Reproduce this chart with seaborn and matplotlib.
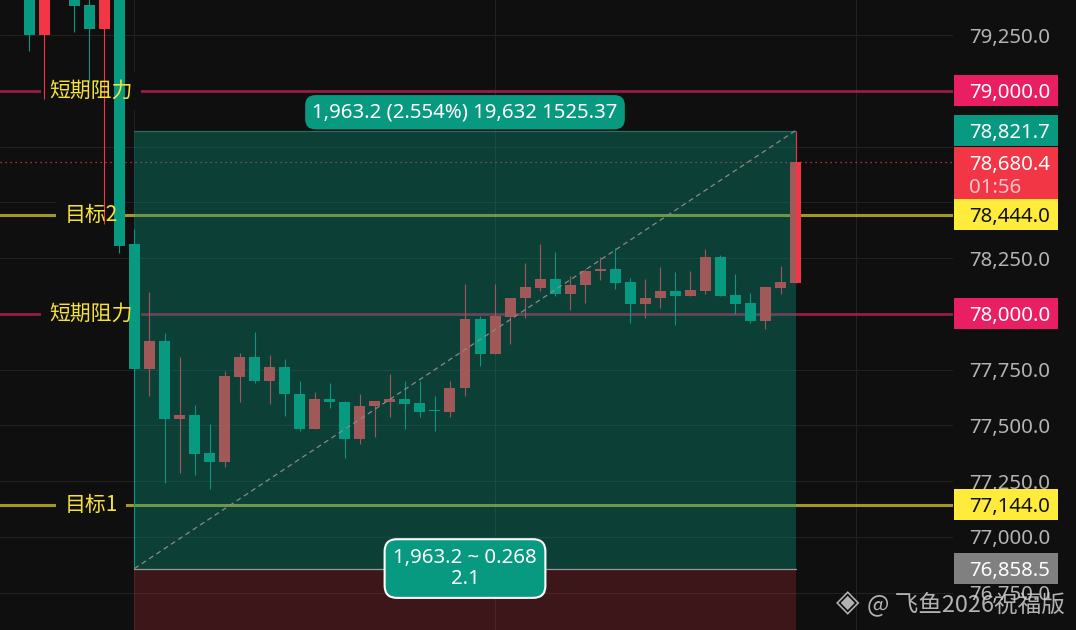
import numpy as np
import pandas as pd
import seaborn as sns
import matplotlib.pyplot as plt
from matplotlib.patches import Rectangle
from matplotlib.transforms import blended_transform_factory

# OHLC (red = up, green = down)
opens = [79450, 79251, 79520, 79430, 79384, 79277, 79430, 78313, 77754, 77879,
         77531, 77548, 77377, 77338, 77718, 77807, 77701, 77763, 77642, 77482,
         77619, 77606, 77437, 77585, 77607, 77619, 77601, 77566, 77558, 77666,
         77978, 77822, 77988, 78069, 78118, 78157, 78091, 78131, 78190, 78202,
         78143, 78046, 78069, 78103, 78082, 78104, 78255, 78085, 78049, 77966,
         78118, 78140]
highs = [79480, 79480, 79560, 79460, 79430, 79470, 79450, 78381, 78099, 77915,
         77807, 77592, 77507, 77746, 77825, 77919, 77816, 77798, 77700, 77651,
         77691, 77610, 77642, 77610, 77731, 77700, 77700, 77633, 77700, 78134,
         77991, 78134, 78072, 78229, 78314, 78278, 78170, 78202, 78255, 78296,
         78161, 78157, 78211, 78188, 78193, 78291, 78264, 78179, 78094, 78121,
         78215, 78821.7]
lows = [79180, 78965, 79430, 79265, 79041, 78402, 78275, 76858.5, 77630, 77244,
        77289, 77280, 77213, 77312, 77607, 77688, 77598, 77544, 77473, 77482,
        77576, 77356, 77415, 77446, 77540, 77482, 77540, 77473, 77536, 77630,
        77768, 77822, 77867, 77983, 78104, 78078, 78019, 78051, 78154, 78113,
        77957, 77983, 78028, 77948, 78082, 78091, 78078, 78001, 77957, 77934,
        78091, 78140]
closes = [79251, 79440, 79470, 79381, 79277, 79430, 78306, 77754, 77879, 77531,
          77548, 77374, 77338, 77722, 77807, 77701, 77763, 77639, 77482, 77619,
          77603, 77437, 77588, 77610, 77619, 77598, 77562, 77563, 77669, 77978,
          77822, 77991, 78072, 78121, 78157, 78091, 78130, 78193, 78202, 78140,
          78046, 78072, 78103, 78082, 78108, 78255, 78082, 78046, 77966, 78121,
          78143, 78680.4]

level_prices = [79000, 78444, 78000, 77144]
level_names = ["短期阻力", "目标2", "短期阻力", "目标1"]
level_kinds = ["res", "tgt", "res", "tgt"]

last_price = 78680.4
countdown = "01:56"
box_low, box_high = 76858.5, 78821.7
box_start, box_end = 7, 51
measure_top = "1,963.2 (2.554%) 19,632 1525.37"
measure_bottom = "1,963.2 ~ 0.268\n2.1"
ticks = np.arange(76750, 79251, 250)
hidden_ticks = [79000, 78750, 78500, 78000]  # covered by price tags
watermark = "@ 飞鱼2026祝福版"

BG = "#0f0f0f"
UP = "#f23645"
DOWN = "#089981"
RES = "#e91e63"
TGT = "#ffeb3b"
CJK = ["Noto Sans CJK SC", "DejaVu Sans"]

sns.set_theme(style="dark", rc={
    "axes.facecolor": BG, "figure.facecolor": BG,
    "axes.grid": True, "grid.color": "#222222", "grid.linewidth": 0.75,
})
plt.rcParams["font.family"] = ["Noto Sans", "DejaVu Sans"]

W, H = 1076, 630
fig = plt.figure(figsize=(W / 100, H / 100), dpi=100)
ax = fig.add_axes([0, 0, 953 / W, 1])
ylim = (76583, 79407)
px = (ylim[1] - ylim[0]) / H
ax.set_ylim(*ylim)
ax.set_xlim(-1.95, 61.48)

df = pd.DataFrame({"open": opens, "high": highs, "low": lows, "close": closes})
df["x"] = np.arange(len(df))
colors = np.where(df["close"] >= df["open"], UP, DOWN)

# candles
ax.vlines(df["x"], df["low"], df["high"], colors=colors, lw=0.8, zorder=2)
body = np.maximum((df["close"] - df["open"]).abs(), px)
ax.bar(df["x"], body, bottom=np.minimum(df["open"], df["close"]),
       width=0.73, color=colors, linewidth=0, zorder=2)

# level lines with labels
for price, name, kind in zip(level_prices, level_names, level_kinds):
    c = RES if kind == "res" else TGT
    a = 0.57 if kind == "res" else 0.62
    ax.axhline(price, color=c, alpha=a, lw=2.2, zorder=1.5)
    ax.text(4.1, price, name, color="none", fontsize=15, family=CJK,
            ha="center", va="center", zorder=1.6,
            bbox=dict(boxstyle="square,pad=0.38", fc=BG, ec="none"))
    ax.text(4.1, price, name, color="#f7e23a", fontsize=15, family=CJK,
            ha="center", va="center", zorder=6)

ax.axhline(last_price, color=UP, ls=(0, (1, 3)), lw=0.9, zorder=1.5)

# measure box
ax.add_patch(Rectangle((box_start, box_low), box_end - box_start, box_high - box_low,
                       fc=DOWN, alpha=0.35, lw=0, zorder=3))
ax.add_patch(Rectangle((box_start, ylim[0] - 200), box_end - box_start,
                       box_low - ylim[0] + 200, fc=UP, alpha=0.2, lw=0, zorder=3))
ax.plot([box_start, box_end], [box_low, box_low], color="#9a9a9a", lw=0.9, zorder=4)
ax.plot([box_start, box_end], [box_high, box_high], color="#2c6b61", lw=0.9, zorder=4)
ax.plot([box_start, box_end], [box_low, box_high], color="#8a8a8a",
        ls=(0, (4, 3)), lw=0.9, zorder=4)

mid = (box_start + box_end) / 2
ax.annotate(measure_top, xy=(mid, box_high), xytext=(0, 6), textcoords="offset points",
            ha="center", va="bottom", color="white", fontsize=14.7, zorder=7,
            bbox=dict(boxstyle="round,pad=0.35,rounding_size=0.5", fc=DOWN, ec="none"))
ax.text(mid, box_low, measure_bottom, ha="center", va="center", multialignment="center",
        color="white", fontsize=14.7, linespacing=1.1, zorder=7,
        bbox=dict(boxstyle="round,pad=0.42,rounding_size=0.6", fc=DOWN, ec="white", lw=1.5))

# grid / axis
ax.set_xticks([7, 31, 55])
ax.set_xticklabels([])
ax.yaxis.tick_right()
ax.set_yticks(ticks)
ax.set_yticklabels(["" if t in hidden_ticks else f"{t:,.1f}" for t in ticks])
ax.tick_params(axis="y", length=0, pad=11.5, labelsize=14.7, labelcolor="#b4b4b4")
ax.tick_params(axis="x", length=0)
for s in ax.spines.values():
    s.set_visible(False)

# price tags on the right scale
tr = blended_transform_factory(ax.transAxes, ax.transData)
x0 = 1 + 1 / 953
xt = 1 + 16 / 953
bw = 104 / 953


def tag(price, text, fc, tc, up=15.5, down=15.5):
    ax.add_patch(Rectangle((x0, price - down * px), bw, (up + down) * px, transform=tr,
                           fc=fc, lw=0, clip_on=False, zorder=8))
    ax.text(xt, price, text, transform=tr, color=tc, fontsize=14.7, ha="left",
            va="center_baseline", clip_on=False, zorder=9)


tag(79000, "79,000.0", RES, "white")
tag(box_high, f"{box_high:,.1f}", DOWN, "white")
tag(last_price, f"{last_price:,.1f}", UP, "white", up=15.5, down=39)
ax.text(xt, last_price - 23 * px, countdown, transform=tr, color="#fbc4cc", fontsize=14.7,
        ha="left", va="center_baseline", clip_on=False, zorder=9)
tag(78444, "78,444.0", TGT, "#111111")
tag(78000, "78,000.0", RES, "white")
tag(77144, "77,144.0", TGT, "#111111")
tag(box_low, f"{box_low:,.1f}", "#808080", "white")

# watermark
fig.text(848 / W, 1 - 603 / H, "◈", fontsize=22, color="#d0d0d0", alpha=0.85,
         ha="center", va="center", family=["DejaVu Sans"])
fig.text(867 / W, 1 - 604 / H, watermark, fontsize=17, color="#d0d0d0", alpha=0.85,
         ha="left", va="center", family=CJK)

fig.savefig("out.png", dpi=100, facecolor=BG)
